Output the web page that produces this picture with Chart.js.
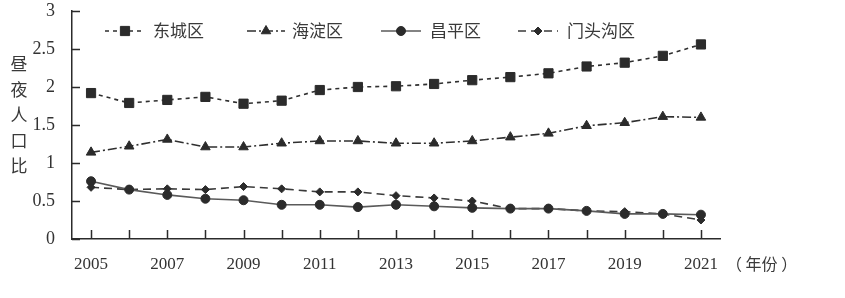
<!DOCTYPE html>
<html>
<head>
<meta charset="utf-8">
<script src="https://cdn.jsdelivr.net/npm/chart.js@4"></script>
<style>
  html, body { margin: 0; padding: 0; background: #fff; }
  canvas { display: block; }
</style>
</head>
<body>
<canvas id="chart" width="845" height="298"></canvas>
<script>
/* 昼夜人口比 2005-2021, four districts */

const years = ['2005', '2006', '2007', '2008', '2009', '2010', '2011', '2012', '2013',
  '2014', '2015', '2016', '2017', '2018', '2019', '2020', '2021'];

const dongcheng = [1.92, 1.79, 1.83, 1.87, 1.78, 1.82, 1.96, 2.0, 2.01, 2.04, 2.09, 2.13, 2.18, 2.27, 2.32, 2.41, 2.56];
const haidian = [1.14, 1.22, 1.31, 1.21, 1.21, 1.26, 1.29, 1.29, 1.26, 1.26, 1.29, 1.34, 1.39, 1.49, 1.53, 1.61, 1.6];
const changping = [0.76, 0.65, 0.58, 0.53, 0.51, 0.45, 0.45, 0.42, 0.45, 0.43, 0.41, 0.4, 0.4, 0.37, 0.33, 0.33, 0.32];
const mentougou = [0.68, 0.65, 0.66, 0.65, 0.69, 0.66, 0.62, 0.62, 0.57, 0.54, 0.5, 0.4, 0.4, 0.37, 0.36, 0.33, 0.25];

const seriesNames = ['东城区', '海淀区', '昌平区', '门头沟区'];
const yTitle = ['昼', '夜', '人', '口', '比'];
const xUnit = '（ 年份 ）';

const ink = '#2b2b2b';
const serif = 'Liberation Serif';
const cjk = 'Noto Sans CJK SC';

function line(label, values, dash, style, radius, color) {
  return {
    label: label,
    data: values,
    borderColor: color,
    backgroundColor: ink,
    pointBackgroundColor: ink,
    pointBorderColor: ink,
    borderWidth: 1.6,
    borderDash: dash,
    pointStyle: style,
    pointRadius: radius,
    pointBorderWidth: 1,
    tension: 0,
    fill: false,
  };
}

const data = {
  labels: years,
  datasets: [
    line(seriesNames[0], dongcheng, [4, 4], 'rect', 6.5, '#2f2f2f'),
    line(seriesNames[1], haidian, [9, 3, 2, 3], 'triangle', 5.5, '#2f2f2f'),
    line(seriesNames[2], changping, [], 'circle', 4.5, '#5a5a5a'),
    line(seriesNames[3], mentougou, [8, 5], 'rectRot', 4, '#3a3a3a'),
  ],
};

/* inward tick marks, legend with line samples, stacked y title */
const decorations = {
  id: 'decorations',
  afterDraw(chart) {
    const ctx = chart.ctx;
    const xs = chart.scales.x;
    const ys = chart.scales.y;
    const area = chart.chartArea;
    ctx.save();
    ctx.strokeStyle = ink;
    ctx.lineWidth = 1.5;
    ctx.setLineDash([]);
    ctx.beginPath();
    ys.ticks.forEach((t) => {
      const y = Math.round(ys.getPixelForValue(t.value)) + 0.5;
      ctx.moveTo(area.left, y);
      ctx.lineTo(area.left + 8, y);
    });
    years.forEach((yr, i) => {
      const x = Math.round(xs.getPixelForValue(i)) + 0.5;
      ctx.moveTo(x, area.bottom);
      ctx.lineTo(x, area.bottom - 9);
    });
    ctx.stroke();

    // legend
    const slots = [
      { x1: 105, x2: 145, tx: 153 },
      { x1: 247, x2: 285, tx: 292 },
      { x1: 381, x2: 421, tx: 430 },
      { x1: 518, x2: 558, tx: 567 },
    ];
    const ly = 31;
    chart.data.datasets.forEach((ds, i) => {
      const s = slots[i];
      ctx.strokeStyle = ds.borderColor;
      ctx.lineWidth = 1.5;
      ctx.setLineDash(ds.borderDash);
      ctx.beginPath();
      ctx.moveTo(s.x1, ly);
      ctx.lineTo(s.x2, ly);
      ctx.stroke();
      ctx.setLineDash([]);
      ctx.fillStyle = ink;
      ctx.strokeStyle = ink;
      ctx.lineWidth = 1;
      Chart.helpers.drawPoint(ctx, {
        pointStyle: ds.pointStyle,
        radius: ds.pointRadius,
        rotation: 0,
        borderWidth: 1,
      }, (s.x1 + s.x2) / 2, ly);
      ctx.fillStyle = '#3a3a3a';
      ctx.font = '17px "' + cjk + '"';
      ctx.textAlign = 'left';
      ctx.textBaseline = 'middle';
      ctx.fillText(ds.label, s.tx, ly);
    });

    // y title, one character per row
    ctx.fillStyle = '#3a3a3a';
    ctx.font = '17px "' + cjk + '"';
    ctx.textAlign = 'center';
    yTitle.forEach((ch, i) => {
      ctx.fillText(ch, 19, 64 + i * 25.5);
    });

    // unit after the last year
    ctx.textAlign = 'left';
    ctx.font = '16px "' + cjk + '"';
    ctx.fillText(xUnit, 726, 264);
    ctx.restore();
  },
};

const config = {
  type: 'line',
  data,
  options: {
    responsive: false,
    animation: false,
    layout: {
      padding: { top: 11, right: 125, bottom: 0, left: 0 },
    },
    plugins: {
      legend: { display: false },
      tooltip: { enabled: false },
    },
    scales: {
      x: {
        offset: true,
        grid: { display: false },
        border: { display: true, color: ink, width: 1.5 },
        ticks: {
          autoSkip: false,
          maxRotation: 0,
          padding: 7,
          color: '#333',
          font: { family: serif, size: 17 },
          callback: (v, i) => (i % 2 === 0 ? years[i] : ''),
        },
        afterFit: (s) => { s.height = 59; },
      },
      y: {
        min: 0,
        max: 3,
        grid: { display: false },
        border: { display: true, color: ink, width: 1.5 },
        ticks: {
          stepSize: 0.5,
          padding: 9,
          color: '#333',
          font: { family: serif, size: 18 },
          callback: (v) => String(v),
        },
        afterFit: (s) => {
          s.width = 72;
          s.paddingTop = 0;
          s.paddingBottom = 0;
        },
      },
    },
  },
  plugins: [decorations],
};

new Chart(document.getElementById('chart'), config);
</script>
</body>
</html>
